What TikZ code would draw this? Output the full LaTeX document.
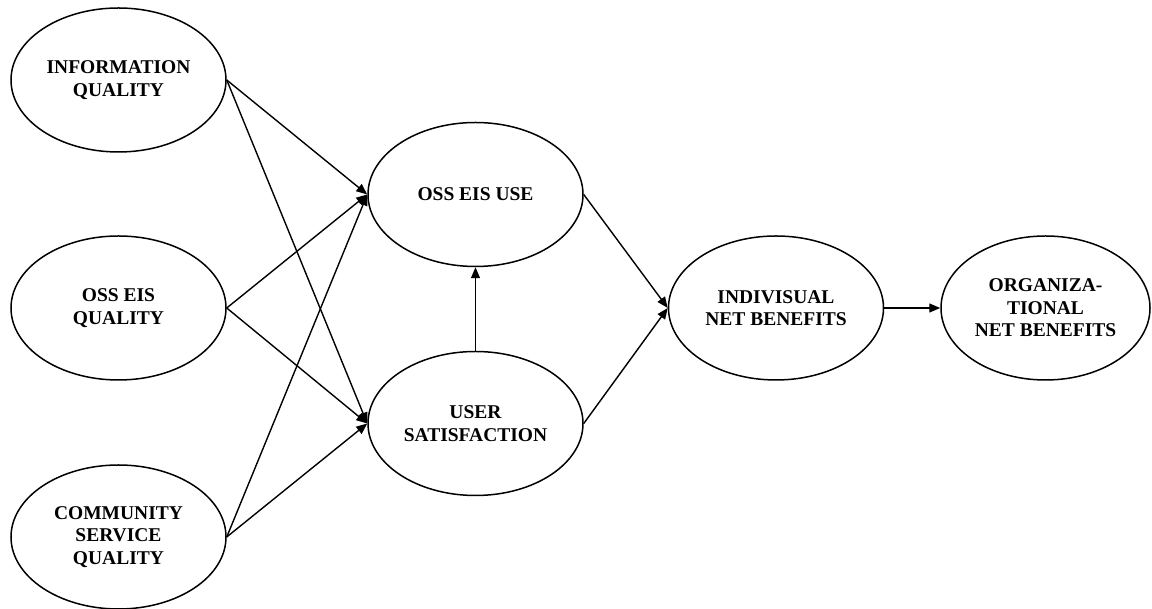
\documentclass[tikz,border=0pt]{standalone}
\usepackage{fontspec}
\setmainfont{Liberation Serif}
\usepackage{tikz}
\usetikzlibrary{arrows.meta,positioning,shapes.geometric}

\begin{document}
\begin{tikzpicture}[x=1pt,y=1pt,
    construct/.style={ellipse,draw,line width=1.5pt,inner sep=0pt,
      minimum width=215pt,minimum height=144pt,align=center,
      font=\fontsize{19.5}{22.5}\selectfont\bfseries},
    link/.style={line width=1.4pt,-{Triangle[length=11pt,width=9pt]}}]
    \useasboundingbox (0,0) rectangle (1152,609);
    % Quality constructs
    \node[construct] (info) at (118.5,529) {INFORMATION\\QUALITY};
    \node[construct] (sysq) at (118.5,301) {OSS EIS\\QUALITY};
    \node[construct] (servq) at (118.5,72) {COMMUNITY\\SERVICE\\QUALITY};
    % Use and satisfaction
    \node[construct] (use) at (475.5,414.5) {OSS EIS USE};
    \node[construct] (sat) at (475.5,185.5) {USER\\SATISFACTION};
    % Net benefits
    \node[construct] (indiv) at (776,301) {INDIVISUAL\\NET BENEFITS};
    \node[construct,minimum width=209pt] (orgn) at (1045.5,301) {ORGANIZA-\\TIONAL\\NET BENEFITS};
    % Paths
    \foreach \q in {info,sysq,servq} {
      \draw[link] (\q.east) -- (use.west);
      \draw[link] (\q.east) -- (sat.west);
    }
    \draw[link] (sat.north) -- (use.south);
    \draw[link] (use.east) -- (indiv.west);
    \draw[link] (sat.east) -- (indiv.west);
    \draw[link] (indiv.east) -- (orgn.west);
  \end{tikzpicture}
\end{document}
